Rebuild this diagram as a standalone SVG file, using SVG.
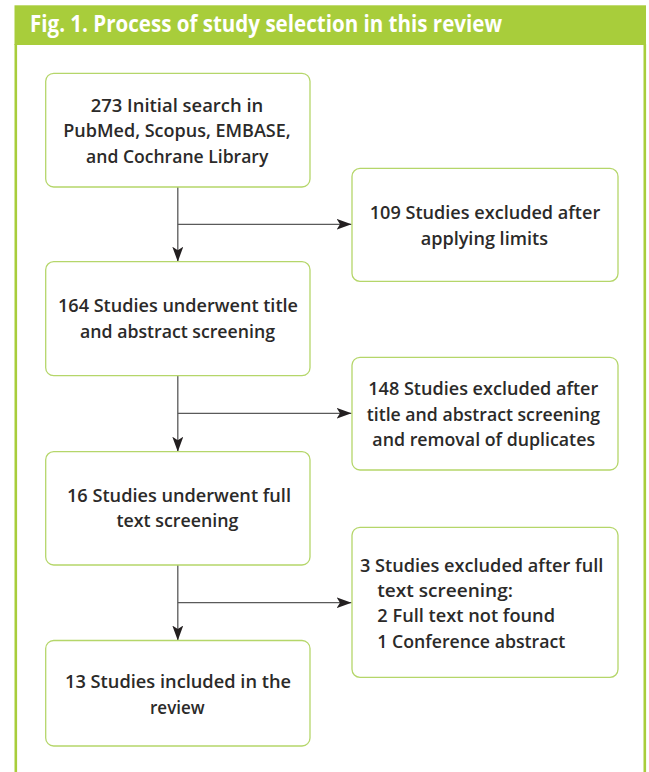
<svg xmlns="http://www.w3.org/2000/svg" width="649" height="772" viewBox="0 0 649 772">
<style>
.frame{stroke:#a8cd3b;stroke-width:2.6;fill:none}
.box{fill:#fff;stroke:#b5d66a;stroke-width:1.3}
.t{font-family:"Open Sans","Liberation Sans",sans-serif;font-weight:600;font-size:17.5px;fill:#2b2a29}
.c{text-anchor:middle}
.hdr{font-family:"Open Sans","Liberation Sans",sans-serif;font-weight:700;font-size:23px;fill:#fff}
.ln{stroke:#5a5a5a;stroke-width:1.3;fill:none}
</style>
<defs>
<marker id="ah" markerUnits="userSpaceOnUse" viewBox="0 0 15 11" refX="15" refY="5.5" markerWidth="15" markerHeight="11" orient="auto">
<path d="M0,0 L15,5.5 L0,11 L3.5,5.5 z" fill="#231f20"/>
</marker>
</defs>
<rect x="0" y="0" width="649" height="772" fill="#fff"/>
<g id="frame">
<line class="frame" x1="15.8" y1="44" x2="15.8" y2="772"/>
<line class="frame" x1="644.8" y1="44" x2="644.8" y2="772"/>
<rect x="14.5" y="5.3" width="631.5" height="39.7" fill="#a8cd3b"/>
<text class="hdr" x="30" y="31.7" textLength="472" lengthAdjust="spacingAndGlyphs">Fig. 1. Process of study selection in this review</text>
</g>
<g id="connectors">
<line class="ln" x1="177.8" y1="187" x2="177.8" y2="261.7" marker-end="url(#ah)"/>
<line class="ln" x1="177.8" y1="224.3" x2="351.5" y2="224.3" marker-end="url(#ah)"/>
<line class="ln" x1="177.8" y1="375.7" x2="177.8" y2="451.7" marker-end="url(#ah)"/>
<line class="ln" x1="177.8" y1="413.3" x2="351.5" y2="413.3" marker-end="url(#ah)"/>
<line class="ln" x1="177.8" y1="565" x2="177.8" y2="640.5" marker-end="url(#ah)"/>
<line class="ln" x1="177.8" y1="602.7" x2="351.5" y2="602.7" marker-end="url(#ah)"/>
</g>
<g id="n273">
<rect class="box" x="45.7" y="73.3" width="264.3" height="113.7" rx="8"/>
<text class="t c" x="177" y="111.7" textLength="172.6" lengthAdjust="spacingAndGlyphs">273 Initial search in</text>
<text class="t c" x="177" y="137.3" textLength="227.4" lengthAdjust="spacingAndGlyphs">PubMed, Scopus, EMBASE,</text>
<text class="t c" x="177.2" y="162.7" textLength="182.3" lengthAdjust="spacingAndGlyphs">and Cochrane Library</text>
</g>
<g id="n109">
<rect class="box" x="352" y="168.4" width="266" height="113" rx="8"/>
<text class="t c" x="485" y="219.3" textLength="230.5" lengthAdjust="spacingAndGlyphs">109 Studies excluded after</text>
<text class="t c" x="484.3" y="244.6" textLength="127.3" lengthAdjust="spacingAndGlyphs">applying limits</text>
</g>
<g id="n164">
<rect class="box" x="45.7" y="261.7" width="264.3" height="114" rx="8"/>
<text class="t c" x="178" y="312" textLength="240" lengthAdjust="spacingAndGlyphs">164 Studies underwent title</text>
<text class="t c" x="177.5" y="337.5" textLength="195" lengthAdjust="spacingAndGlyphs">and abstract screening</text>
</g>
<g id="n148">
<rect class="box" x="352" y="357.3" width="266" height="112.7" rx="8"/>
<text class="t c" x="483.3" y="395" textLength="230" lengthAdjust="spacingAndGlyphs">148 Studies excluded after</text>
<text class="t c" x="483.4" y="420.7" textLength="233.3" lengthAdjust="spacingAndGlyphs">title and abstract screening</text>
<text class="t c" x="483.7" y="445.7" textLength="222.7" lengthAdjust="spacingAndGlyphs">and removal of duplicates</text>
</g>
<g id="n16">
<rect class="box" x="45.7" y="451.7" width="264.3" height="113.3" rx="8"/>
<text class="t c" x="179" y="501.8" textLength="224" lengthAdjust="spacingAndGlyphs">16 Studies underwent full</text>
<text class="t c" x="177.5" y="527.3" textLength="122" lengthAdjust="spacingAndGlyphs">text screening</text>
</g>
<g id="n3">
<rect class="box" x="352" y="527.3" width="266" height="150" rx="8"/>
<text class="t" x="360" y="571.6" textLength="243.3" lengthAdjust="spacingAndGlyphs">3 Studies excluded after full</text>
<text class="t" x="377.3" y="597" textLength="135.7" lengthAdjust="spacingAndGlyphs">text screening:</text>
<text class="t" x="377.3" y="622.4" textLength="177.7" lengthAdjust="spacingAndGlyphs">2 Full text not found</text>
<text class="t" x="377.3" y="648" textLength="188" lengthAdjust="spacingAndGlyphs">1 Conference abstract</text>
</g>
<g id="n13">
<rect class="box" x="45.7" y="640.5" width="264.3" height="105.5" rx="8"/>
<text class="t c" x="178" y="688" textLength="226" lengthAdjust="spacingAndGlyphs">13 Studies included in the</text>
<text class="t c" x="177.3" y="713.8" textLength="54.6" lengthAdjust="spacingAndGlyphs">review</text>
</g>
</svg>
